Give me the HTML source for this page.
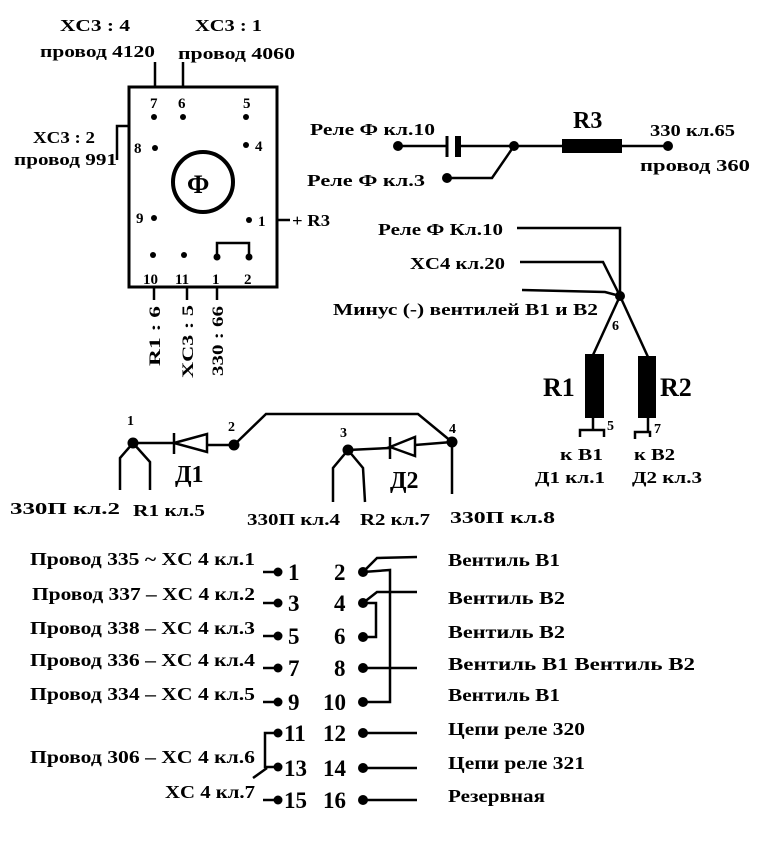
<!DOCTYPE html>
<html><head><meta charset="utf-8"><style>
html,body{margin:0;padding:0;background:#fff;}
svg{display:block;}
text{font-family:"Liberation Serif","Noto Serif CJK SC",serif;font-weight:bold;fill:#000;}
</style></head><body>
<svg width="769" height="843" viewBox="0 0 769 843" xmlns="http://www.w3.org/2000/svg">
<g stroke="#000" stroke-width="2.5" fill="none">
<rect x="129" y="87" width="148" height="200" stroke-width="3"/>
<line x1="155" y1="62" x2="155" y2="87"/>
<line x1="183" y1="62" x2="183" y2="87"/>
<polyline points="117,160 117,126 129,126"/>
<line x1="277" y1="220" x2="290" y2="220"/>
<circle cx="203" cy="182" r="30" stroke-width="4"/>
<polyline points="217,255 217,243 249,243 249,255"/>
<line x1="154" y1="287" x2="154" y2="300"/>
<line x1="187" y1="287" x2="187" y2="300"/>
<line x1="217" y1="287" x2="217" y2="300"/>
<line x1="398" y1="146" x2="447" y2="146"/>
<line x1="447" y1="136" x2="447" y2="157" stroke-width="3"/>
<line x1="458" y1="136" x2="458" y2="157" stroke-width="6"/>
<line x1="458" y1="146" x2="562" y2="146"/>
<line x1="622" y1="146" x2="668" y2="146"/>
<polyline points="514,146 492,178 447,178"/>
<polyline points="517,228 620,228 620,296"/>
<polyline points="520,262 603,262 620,296"/>
<polyline points="522,290 605,292 620,296"/>
<line x1="620" y1="296" x2="593" y2="355"/>
<line x1="620" y1="296" x2="648" y2="357"/>
<polyline points="593,418 593,430"/>
<polyline points="580,437 580,430 604,430 604,437"/>
<polyline points="648,418 648,432"/>
<polyline points="635,439 635,432 650,432 650,437"/>
<line x1="133" y1="443" x2="174" y2="443"/>
<polygon points="174,443 207,434 207,452"/>
<line x1="174" y1="433" x2="174" y2="454"/>
<line x1="207" y1="445" x2="234" y2="445"/>
<polyline points="234,445 266,414 418,414 452,442"/>
<polyline points="133,443 120,458 120,490"/>
<polyline points="133,443 150,462 150,490"/>
<line x1="348" y1="450" x2="390" y2="448"/>
<polygon points="390,447 415,437 415,456"/>
<line x1="390" y1="437" x2="390" y2="459"/>
<line x1="415" y1="445" x2="452" y2="442"/>
<polyline points="348,450 333,468 333,502"/>
<polyline points="348,450 363,468 365,502"/>
<line x1="452" y1="442" x2="452" y2="494"/>
<line x1="263" y1="572" x2="278" y2="572"/>
<line x1="263" y1="603" x2="278" y2="603"/>
<line x1="263" y1="636" x2="278" y2="636"/>
<line x1="263" y1="668" x2="278" y2="668"/>
<line x1="263" y1="702" x2="278" y2="702"/>
<line x1="263" y1="800" x2="278" y2="800"/>
<polyline points="278,733 265,733 265,767 278,767"/>
<line x1="267" y1="768" x2="253" y2="778"/>
<polyline points="363,572 377,558 417,557"/>
<polyline points="363,572 390,570 390,702 363,702"/>
<polyline points="363,603 377,592 417,592"/>
<polyline points="363,603 376,603 376,637 363,637"/>
<line x1="363" y1="668" x2="417" y2="668"/>
<line x1="363" y1="733" x2="417" y2="733"/>
<line x1="363" y1="768" x2="417" y2="768"/>
<line x1="363" y1="800" x2="417" y2="800"/>
</g>
<g fill="#000">
<circle cx="154" cy="117" r="3"/><circle cx="183" cy="117" r="3"/><circle cx="246" cy="117" r="3"/>
<circle cx="155" cy="148" r="3"/><circle cx="246" cy="145" r="3"/>
<circle cx="154" cy="218" r="3"/><circle cx="249" cy="220" r="3"/>
<circle cx="153" cy="255" r="3"/><circle cx="184" cy="255" r="3"/><circle cx="217" cy="257" r="3.5"/><circle cx="249" cy="257" r="3.5"/>
<circle cx="398" cy="146" r="5"/><circle cx="514" cy="146" r="5"/><circle cx="668" cy="146" r="5"/><circle cx="447" cy="178" r="5"/>
<rect x="562" y="139" width="60" height="14"/>
<circle cx="620" cy="296" r="5"/>
<rect x="585" y="354" width="19" height="64"/>
<rect x="638" y="356" width="18" height="62"/>
<circle cx="133" cy="443" r="5.5"/><circle cx="234" cy="445" r="5.5"/><circle cx="348" cy="450" r="5.5"/><circle cx="452" cy="442" r="5.5"/>
<circle cx="278" cy="572" r="4.5"/><circle cx="278" cy="603" r="4.5"/><circle cx="278" cy="636" r="4.5"/><circle cx="278" cy="668" r="4.5"/><circle cx="278" cy="702" r="4.5"/><circle cx="278" cy="733" r="4.5"/><circle cx="278" cy="767" r="4.5"/><circle cx="278" cy="800" r="4.5"/>
<circle cx="363" cy="572" r="5"/><circle cx="363" cy="603" r="5"/><circle cx="363" cy="637" r="5"/><circle cx="363" cy="668" r="5"/><circle cx="363" cy="702" r="5"/><circle cx="363" cy="733" r="5"/><circle cx="363" cy="768" r="5"/><circle cx="363" cy="800" r="5"/>
</g>
<g font-size="17">
<text x="60" y="31" textLength="70" lengthAdjust="spacingAndGlyphs">XC3 : 4</text>
<text x="40" y="57" textLength="115" lengthAdjust="spacingAndGlyphs">провод 4120</text>
<text x="195" y="31" textLength="67" lengthAdjust="spacingAndGlyphs">XC3 : 1</text>
<text x="178" y="59" textLength="117" lengthAdjust="spacingAndGlyphs">провод 4060</text>
<text x="33" y="143" textLength="62" lengthAdjust="spacingAndGlyphs">XC3 : 2</text>
<text x="14" y="165" textLength="103" lengthAdjust="spacingAndGlyphs">провод 991</text>
<text x="292" y="226" textLength="38" lengthAdjust="spacingAndGlyphs">+ R3</text>
<text x="310" y="135" textLength="125" lengthAdjust="spacingAndGlyphs">Реле Ф кл.10</text>
<text x="307" y="186" textLength="118" lengthAdjust="spacingAndGlyphs">Реле Ф кл.3</text>
<text x="650" y="136" textLength="85" lengthAdjust="spacingAndGlyphs">330 кл.65</text>
<text x="640" y="171" textLength="110" lengthAdjust="spacingAndGlyphs">провод 360</text>
<text x="378" y="235" textLength="125" lengthAdjust="spacingAndGlyphs">Реле Ф Кл.10</text>
<text x="410" y="269" textLength="95" lengthAdjust="spacingAndGlyphs">XC4 кл.20</text>
<text x="333" y="315" textLength="265" lengthAdjust="spacingAndGlyphs">Минус (-) вентилей В1 и В2</text>
<text x="560" y="460" textLength="43" lengthAdjust="spacingAndGlyphs">к В1</text>
<text x="535" y="483" textLength="70" lengthAdjust="spacingAndGlyphs">Д1 кл.1</text>
<text x="634" y="460" textLength="41" lengthAdjust="spacingAndGlyphs">к В2</text>
<text x="632" y="483" textLength="70" lengthAdjust="spacingAndGlyphs">Д2 кл.3</text>
<text x="10" y="514" textLength="110" lengthAdjust="spacingAndGlyphs">330П кл.2</text>
<text x="133" y="516" textLength="72" lengthAdjust="spacingAndGlyphs">R1 кл.5</text>
<text x="247" y="525" textLength="93" lengthAdjust="spacingAndGlyphs">330П кл.4</text>
<text x="360" y="525" textLength="70" lengthAdjust="spacingAndGlyphs">R2 кл.7</text>
<text x="450" y="523" textLength="105" lengthAdjust="spacingAndGlyphs">330П кл.8</text>
</g>
<g font-size="15" font-weight="normal">
<text x="150" y="108">7</text><text x="178" y="108">6</text><text x="243" y="108">5</text>
<text x="134" y="153">8</text><text x="255" y="151">4</text>
<text x="136" y="223">9</text><text x="258" y="226">1</text>
<text x="143" y="284">10</text><text x="175" y="284">11</text><text x="212" y="284">1</text><text x="244" y="284">2</text>
</g>
<g font-size="14">
<text x="612" y="330">6</text><text x="607" y="430">5</text><text x="654" y="433">7</text>
<text x="127" y="425">1</text><text x="228" y="431">2</text><text x="340" y="437">3</text><text x="449" y="433">4</text>
</g>
<g font-size="16">
<text transform="translate(160,366) rotate(-90)" textLength="60" lengthAdjust="spacingAndGlyphs">R1 : 6</text>
<text transform="translate(193,378) rotate(-90)" textLength="73" lengthAdjust="spacingAndGlyphs">XC3 : 5</text>
<text transform="translate(223,376) rotate(-90)" textLength="70" lengthAdjust="spacingAndGlyphs">330 : 66</text>
</g>
<text x="187" y="193" font-size="26">Ф</text>
<text x="573" y="128" font-size="24">R3</text>
<text x="543" y="396" font-size="26">R1</text>
<text x="660" y="396" font-size="26">R2</text>
<text x="175" y="482" font-size="24">Д1</text>
<text x="390" y="488" font-size="24">Д2</text>
<g font-size="18">
<text x="30" y="565" textLength="225" lengthAdjust="spacingAndGlyphs">Провод 335 ~ XC 4 кл.1</text>
<text x="32" y="600" textLength="223" lengthAdjust="spacingAndGlyphs">Провод 337 – XC 4 кл.2</text>
<text x="30" y="634" textLength="225" lengthAdjust="spacingAndGlyphs">Провод 338 – XC 4 кл.3</text>
<text x="30" y="666" textLength="225" lengthAdjust="spacingAndGlyphs">Провод 336 – XC 4 кл.4</text>
<text x="30" y="700" textLength="225" lengthAdjust="spacingAndGlyphs">Провод 334 – XC 4 кл.5</text>
<text x="30" y="763" textLength="225" lengthAdjust="spacingAndGlyphs">Провод 306 – XC 4 кл.6</text>
<text x="165" y="798" textLength="90" lengthAdjust="spacingAndGlyphs">XC 4 кл.7</text>
<text x="448" y="566" textLength="112" lengthAdjust="spacingAndGlyphs">Вентиль В1</text>
<text x="448" y="604" textLength="117" lengthAdjust="spacingAndGlyphs">Вентиль В2</text>
<text x="448" y="638" textLength="117" lengthAdjust="spacingAndGlyphs">Вентиль В2</text>
<text x="448" y="670" textLength="247" lengthAdjust="spacingAndGlyphs">Вентиль В1  Вентиль В2</text>
<text x="448" y="701" textLength="112" lengthAdjust="spacingAndGlyphs">Вентиль В1</text>
<text x="448" y="735" textLength="137" lengthAdjust="spacingAndGlyphs">Цепи реле 320</text>
<text x="448" y="769" textLength="137" lengthAdjust="spacingAndGlyphs">Цепи реле 321</text>
<text x="448" y="802" textLength="97" lengthAdjust="spacingAndGlyphs">Резервная</text>
</g>
<g font-size="23">
<text x="288" y="580">1</text><text x="334" y="580">2</text>
<text x="288" y="611">3</text><text x="334" y="611">4</text>
<text x="288" y="644">5</text><text x="334" y="644">6</text>
<text x="288" y="676">7</text><text x="334" y="676">8</text>
<text x="288" y="710">9</text><text x="323" y="710">10</text>
<text x="284" y="741">11</text><text x="323" y="741">12</text>
<text x="284" y="776">13</text><text x="323" y="776">14</text>
<text x="284" y="808">15</text><text x="323" y="808">16</text>
</g>
</svg>
</body></html>
